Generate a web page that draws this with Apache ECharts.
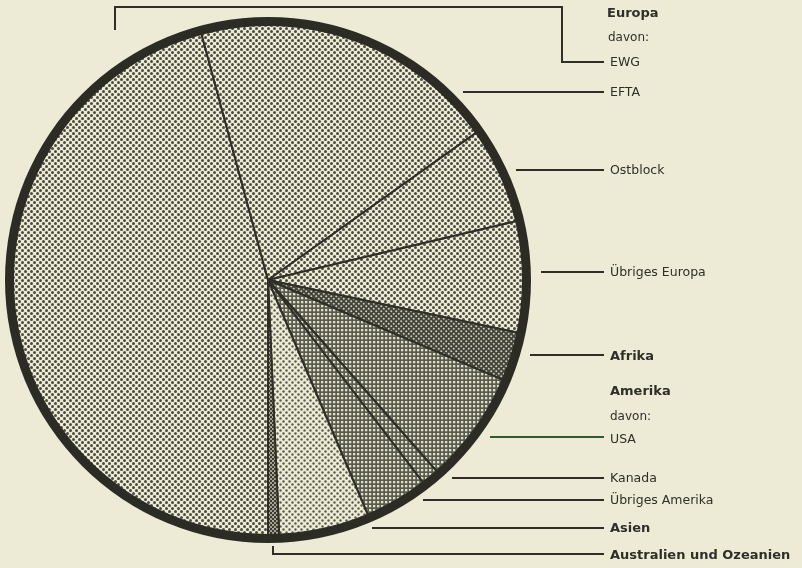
<!DOCTYPE html>
<html>
<head>
<meta charset="utf-8">
<title>Ausfuhr nach Regionen</title>
<script src="https://cdn.jsdelivr.net/npm/echarts@6/dist/echarts.min.js"></script>
<style>
  html, body { margin: 0; padding: 0; background: #edebd6; }
  #chart { width: 802px; height: 568px; }
</style>
</head>
<body>
<div id="chart"></div>
<script>
// Anteile in Prozent, im Uhrzeigersinn ab 6 Uhr
const regions = ['EWG', 'EFTA', 'Ostblock', 'Übriges Europa', 'Afrika', 'USA', 'Kanada', 'Übriges Amerika', 'Asien', 'Australien und Ozeanien']
const shares = [45.8, 19.4, 6.1, 7.0, 3.1, 7.1, 1.1, 4.0, 5.7, 0.7]
const boldLabels = ['Afrika', 'Asien', 'Australien und Ozeanien']

// Layout der Beschriftung (rechts vom Kreis)
const labelX = 610
const lineEndX = 604
const labelY = [63, 93, 171, 273, 357, 440, 479, 501, 529, 556]
const lineY = [62, 92, 170, 272, 355, 437, 478, 500, 528, 554]
const lineStartX = [null, 463, 516, 541, 530, 490, 452, 423, 372, null]

const INK = '#2f2f28'
const PAPER = '#edebd6'

// kleine Raster-Kacheln als Füllmuster (wie im Druck)
function makePattern(tile, bg, draw) {
  const c = document.createElement('canvas')
  c.width = c.height = tile
  const ctx = c.getContext('2d')
  ctx.fillStyle = bg
  ctx.fillRect(0, 0, tile, tile)
  draw(ctx, tile)
  return { image: c, repeat: 'repeat' }
}

function dots(tile, r, bg, ink) {
  return makePattern(tile, bg, (ctx, t) => {
    ctx.fillStyle = ink
    ;[[t / 4, t / 4], [3 * t / 4, 3 * t / 4]].forEach(([x, y]) => {
      ctx.beginPath()
      ctx.arc(x, y, r, 0, Math.PI * 2)
      ctx.fill()
    })
  })
}

function grid(tile, hole, bg, ink) {
  return makePattern(tile, ink, (ctx, t) => {
    ctx.fillStyle = bg
    ctx.fillRect(1, 1, hole, hole)
  })
}

const fills = {
  europe: dots(6, 1.5, PAPER, '#4a4a40'),
  light: dots(6, 1.2, PAPER, '#5a5a4e'),
  africa: dots(5, 1.0, '#44443a', '#cfcdb8'),
  america: grid(4, 2.3, '#e2e0ca', '#5a5a4e'),
  oceania: dots(4, 1.1, '#3a3a32', '#b5b39e')
}
const sliceFill = ['europe', 'europe', 'europe', 'europe', 'africa', 'america', 'america', 'america', 'light', 'oceania']

// Klammern für EWG und Australien
const ewgBracket = [[115, 30], [115, 7], [562, 7], [562, 62], [lineEndX, 62]]
const ozBracket = [[273, 546], [273, 554], [lineEndX, 554]]

const chart = echarts.init(document.getElementById('chart'))

const option = {
  backgroundColor: PAPER,
  animation: false,
  graphic: [
    { type: 'text', x: 607, y: 14, style: { text: 'Europa', font: 'bold 13px "DejaVu Sans"', fill: INK, verticalAlign: 'middle' } },
    { type: 'text', x: 608, y: 38, style: { text: 'davon:', font: '12px "DejaVu Sans"', fill: INK, verticalAlign: 'middle' } },
    { type: 'text', x: 610, y: 392, style: { text: 'Amerika', font: 'bold 13px "DejaVu Sans"', fill: INK, verticalAlign: 'middle' } },
    { type: 'text', x: 610, y: 417, style: { text: 'davon:', font: '12px "DejaVu Sans"', fill: INK, verticalAlign: 'middle' } }
  ],
  series: [
    {
      type: 'pie',
      center: [268, 280],
      radius: [0, 257],
      startAngle: 270,
      clockwise: true,
      avoidLabelOverlap: false,
      silent: true,
      data: regions.map((name, i) => ({
        name: name,
        value: shares[i],
        itemStyle: { color: fills[sliceFill[i]] },
        labelLine: name === 'USA' ? { lineStyle: { color: '#2f5a32' } } : undefined
      })),
      itemStyle: {
        borderColor: INK,
        borderWidth: 2
      },
      label: {
        show: true,
        position: 'outside',
        formatter: (p) => boldLabels.includes(p.name) ? '{b|' + p.name + '}' : '{s|' + p.name + '}',
        rich: {
          b: { fontFamily: 'DejaVu Sans', fontWeight: 'bold', fontSize: 13, color: INK },
          s: { fontFamily: 'DejaVu Sans', fontSize: 12.5, color: INK }
        }
      },
      labelLine: {
        show: true,
        smooth: false,
        lineStyle: { color: INK, width: 2 }
      },
      labelLayout: (params) => {
        const i = params.dataIndex
        let points
        if (i === 0) points = ewgBracket
        else if (i === regions.length - 1) points = ozBracket
        else points = [[lineStartX[i], lineY[i]], [lineEndX, lineY[i]], [lineEndX, lineY[i]]]
        return {
          x: labelX,
          y: labelY[i],
          align: 'left',
          verticalAlign: 'middle',
          labelLinePoints: points,
          hideOverlap: false
        }
      }
    },
    {
      // dicker Außenrand
      type: 'pie',
      center: [268, 280],
      radius: [254, 263],
      silent: true,
      label: { show: false },
      labelLine: { show: false },
      itemStyle: { color: '#2c2c25', borderWidth: 0 },
      data: [1]
    }
  ]
}

chart.setOption(option)
</script>
</body>
</html>
